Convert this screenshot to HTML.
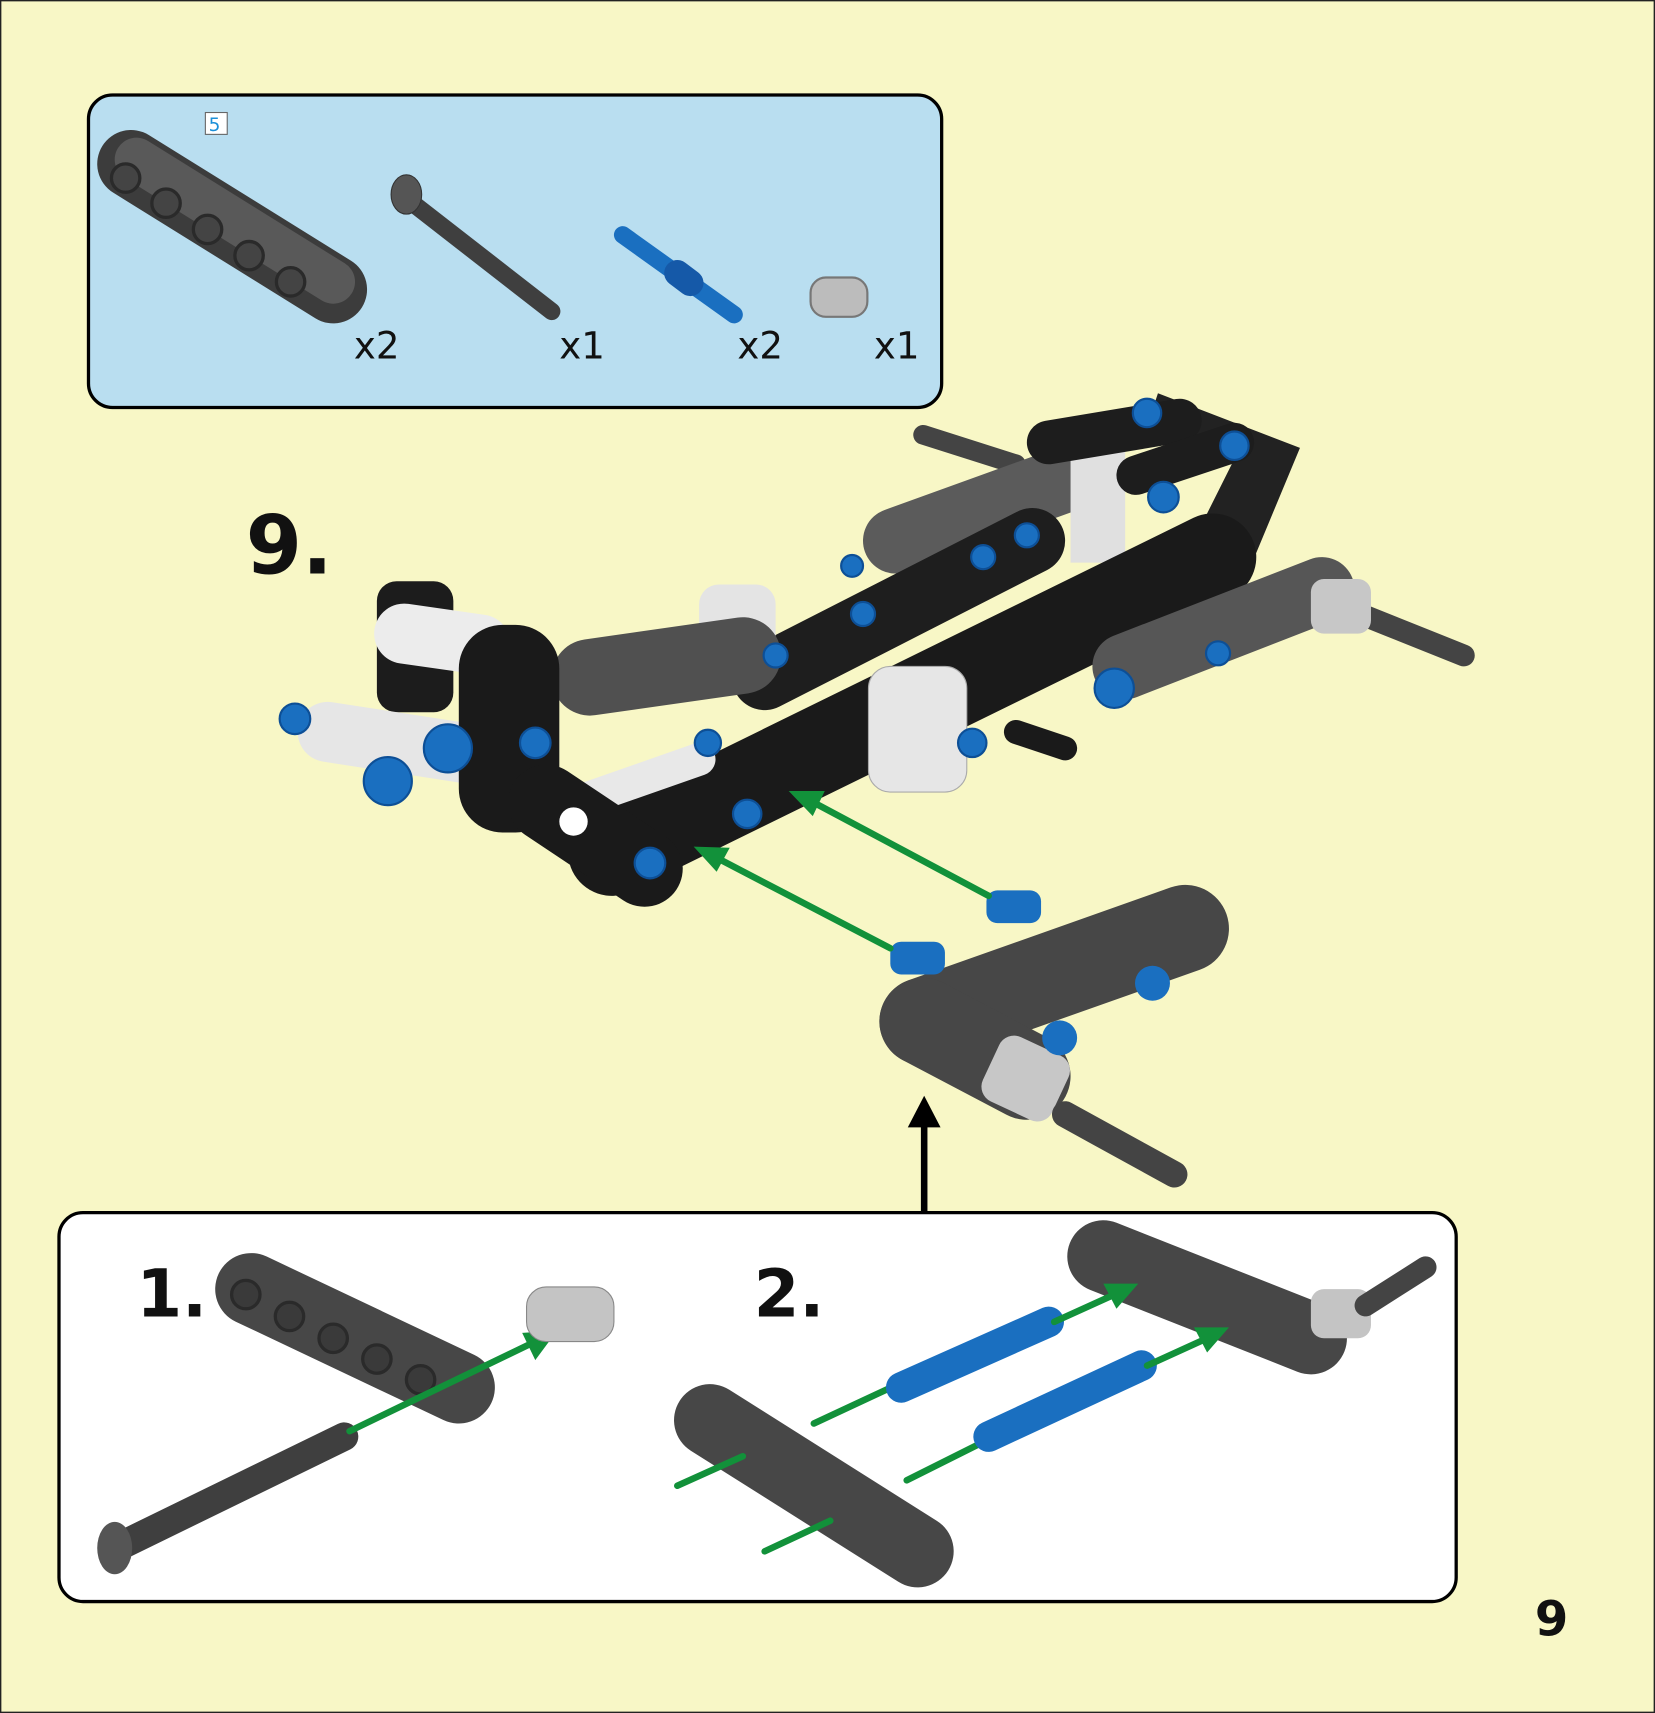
<!DOCTYPE html>
<html><head><meta charset="utf-8"><style>
html,body{margin:0;padding:0;background:#f8f7c6}
svg{display:block}
text{font-family:"DejaVu Sans","Liberation Sans",sans-serif;fill:#111}
</style></head><body>
<svg width="1655" height="1713" viewBox="0 0 1515 1568" preserveAspectRatio="none" xmlns="http://www.w3.org/2000/svg">
<rect x="0.5" y="0.5" width="1514" height="1567" fill="#f8f7c6" stroke="#222" stroke-width="1.5"/>
<!-- parts box -->
<rect x="81" y="87" width="781" height="286" rx="22" fill="#b9def0" stroke="#000" stroke-width="3"/>
<rect x="188" y="103" width="20" height="20" fill="#fff" stroke="#666"/>
<text x="191" y="120" font-size="17" style="fill:#1a8fd8">5</text>
<g stroke-linecap="round">
<line x1="120" y1="150" x2="305" y2="265" stroke="#3c3c3c" stroke-width="62"/>
<line x1="125" y1="146" x2="305" y2="258" stroke="#595959" stroke-width="40"/>
<g fill="#444" stroke="#2a2a2a" stroke-width="3"><circle cx="115" cy="163" r="13"/><circle cx="152" cy="186" r="13"/><circle cx="190" cy="210" r="13"/><circle cx="228" cy="234" r="13"/><circle cx="266" cy="258" r="13"/></g>
<line x1="370" y1="180" x2="505" y2="285" stroke="#3f3f3f" stroke-width="16"/>
<ellipse cx="372" cy="178" rx="14" ry="18" fill="#555" stroke="#333"/>
<line x1="570" y1="215" x2="672" y2="288" stroke="#1a6fc0" stroke-width="16"/>
<line x1="620" y1="250" x2="632" y2="259" stroke="#1559a8" stroke-width="24"/>
<rect x="742" y="254" width="52" height="36" rx="14" fill="#bcbcbc" stroke="#777" stroke-width="2"/>
</g>
<text x="324" y="328" font-size="34">x2</text>
<text x="512" y="328" font-size="34">x1</text>
<text x="675" y="328" font-size="34">x2</text>
<text x="800" y="328" font-size="34">x1</text>
<text x="225" y="525" font-size="74" font-weight="bold">9.</text>
<!-- main model -->
<g stroke-linecap="round">
<line x1="845" y1="398" x2="930" y2="425" stroke="#444" stroke-width="18"/>
<line x1="1240" y1="560" x2="1340" y2="600" stroke="#444" stroke-width="20"/>
<line x1="820" y1="495" x2="1000" y2="430" stroke="#5b5b5b" stroke-width="60"/>
<polygon points="1060,360 1190,410 1140,530 1090,500 1130,420 1050,390" fill="#222"/>
<rect x="980" y="395" width="50" height="120" fill="#e0e0e0"/>
<line x1="960" y1="405" x2="1080" y2="385" stroke="#1d1d1d" stroke-width="40"/>
<line x1="1040" y1="435" x2="1130" y2="405" stroke="#1d1d1d" stroke-width="36"/>
<line x1="700" y1="620" x2="945" y2="495" stroke="#1e1e1e" stroke-width="60"/>
<rect x="640" y="535" width="70" height="70" rx="18" fill="#e4e4e4"/>
<line x1="540" y1="620" x2="680" y2="600" stroke="#505050" stroke-width="70"/>
<line x1="560" y1="780" x2="1110" y2="510" stroke="#1a1a1a" stroke-width="80"/>
<line x1="540" y1="730" x2="640" y2="695" stroke="#e8e8e8" stroke-width="30"/>
<line x1="1030" y1="610" x2="1210" y2="540" stroke="#565656" stroke-width="60"/>
<rect x="1200" y="530" width="55" height="50" rx="12" fill="#c7c7c7"/>
<rect x="795" y="610" width="90" height="115" rx="20" fill="#e6e6e6" stroke="#aaa"/>
<line x1="930" y1="670" x2="975" y2="685" stroke="#1a1a1a" stroke-width="22"/>
<rect x="345" y="532" width="70" height="120" rx="18" fill="#1c1c1c"/>
<line x1="370" y1="580" x2="440" y2="590" stroke="#ececec" stroke-width="55"/>
<line x1="300" y1="670" x2="430" y2="690" stroke="#e6e6e6" stroke-width="55"/>
<rect x="420" y="572" width="92" height="190" rx="40" fill="#1a1a1a"/>
<line x1="500" y1="735" x2="590" y2="795" stroke="#1a1a1a" stroke-width="70"/>
<g fill="#1a6fc0" stroke="#0d4f96" stroke-width="2">
<circle cx="270" cy="658" r="14"/><circle cx="355" cy="715" r="22"/><circle cx="410" cy="685" r="22"/>
<circle cx="490" cy="680" r="14"/><circle cx="595" cy="790" r="14"/><circle cx="684" cy="745" r="13"/><circle cx="648" cy="680" r="12"/>
<circle cx="710" cy="600" r="11"/><circle cx="790" cy="562" r="11"/><circle cx="900" cy="510" r="11"/><circle cx="940" cy="490" r="11"/>
<circle cx="890" cy="680" r="13"/><circle cx="1020" cy="630" r="18"/><circle cx="1115" cy="598" r="11"/>
<circle cx="1065" cy="455" r="14"/><circle cx="1050" cy="378" r="13"/><circle cx="1130" cy="408" r="13"/><circle cx="780" cy="518" r="10"/>
</g>
<circle cx="525" cy="752" r="13" fill="#fff"/>
<!-- lower beam assembly -->
<line x1="845" y1="935" x2="1085" y2="850" stroke="#474747" stroke-width="80"/>
<line x1="845" y1="935" x2="940" y2="985" stroke="#474747" stroke-width="80"/>
<rect x="905" y="955" width="70" height="65" rx="15" fill="#c7c7c7" transform="rotate(25 940 985)"/>
<line x1="975" y1="1020" x2="1075" y2="1075" stroke="#444" stroke-width="24"/>
<g fill="#1a6fc0"><circle cx="970" cy="950" r="16"/><circle cx="1055" cy="900" r="16"/><rect x="815" y="862" width="50" height="30" rx="10"/><rect x="903" y="815" width="50" height="30" rx="10"/></g>
<line x1="815" y1="868" x2="650" y2="782" stroke="#12913a" stroke-width="6"/>
<polygon points="635,775 668,776 656,798" fill="#12913a"/>
<line x1="905" y1="820" x2="740" y2="732" stroke="#12913a" stroke-width="6"/>
<polygon points="722,724 755,724 744,747" fill="#12913a"/>
</g>
<line x1="846" y1="1110" x2="846" y2="1025" stroke="#000" stroke-width="6"/>
<polygon points="846,1003 831,1032 861,1032" fill="#000"/>
<!-- bottom box -->
<rect x="54" y="1110" width="1279" height="356" rx="22" fill="#fff" stroke="#000" stroke-width="3"/>
<text x="125" y="1205" font-size="60" font-weight="bold">1.</text>
<text x="690" y="1205" font-size="60" font-weight="bold">2.</text>
<g stroke-linecap="round">
<line x1="230" y1="1180" x2="420" y2="1270" stroke="#474747" stroke-width="66"/>
<g fill="#3a3a3a" stroke="#2a2a2a" stroke-width="3"><circle cx="225" cy="1185" r="13"/><circle cx="265" cy="1205" r="13"/><circle cx="305" cy="1225" r="13"/><circle cx="345" cy="1244" r="13"/><circle cx="385" cy="1263" r="13"/></g>
<line x1="110" y1="1415" x2="315" y2="1315" stroke="#3f3f3f" stroke-width="26"/>
<ellipse cx="105" cy="1417" rx="16" ry="24" fill="#555"/>
<line x1="320" y1="1310" x2="490" y2="1228" stroke="#12913a" stroke-width="6"/>
<polygon points="510,1218 478,1220 490,1245" fill="#12913a"/>
<rect x="482" y="1178" width="80" height="50" rx="18" fill="#c4c4c4" stroke="#888"/>
<line x1="1010" y1="1150" x2="1200" y2="1225" stroke="#474747" stroke-width="66"/>
<rect x="1200" y="1180" width="55" height="45" rx="12" fill="#c4c4c4"/>
<line x1="1250" y1="1195" x2="1305" y2="1160" stroke="#444" stroke-width="20"/>
<line x1="650" y1="1300" x2="840" y2="1420" stroke="#474747" stroke-width="66"/>
<line x1="745" y1="1303" x2="820" y2="1268" stroke="#12913a" stroke-width="6"/>
<line x1="620" y1="1360" x2="680" y2="1333" stroke="#12913a" stroke-width="6"/>
<line x1="830" y1="1355" x2="900" y2="1320" stroke="#12913a" stroke-width="6"/>
<line x1="700" y1="1420" x2="760" y2="1392" stroke="#12913a" stroke-width="6"/>
<line x1="825" y1="1270" x2="960" y2="1210" stroke="#1a6fc0" stroke-width="28"/>
<line x1="905" y1="1315" x2="1045" y2="1250" stroke="#1a6fc0" stroke-width="28"/>
<line x1="965" y1="1210" x2="1020" y2="1185" stroke="#12913a" stroke-width="6"/>
<polygon points="1042,1175 1010,1175 1022,1198" fill="#12913a"/>
<line x1="1050" y1="1250" x2="1105" y2="1225" stroke="#12913a" stroke-width="6"/>
<polygon points="1125,1215 1093,1215 1105,1238" fill="#12913a"/>
</g>
<text x="1405" y="1497" font-size="44" font-weight="bold">9</text>
</svg>
</body></html>
